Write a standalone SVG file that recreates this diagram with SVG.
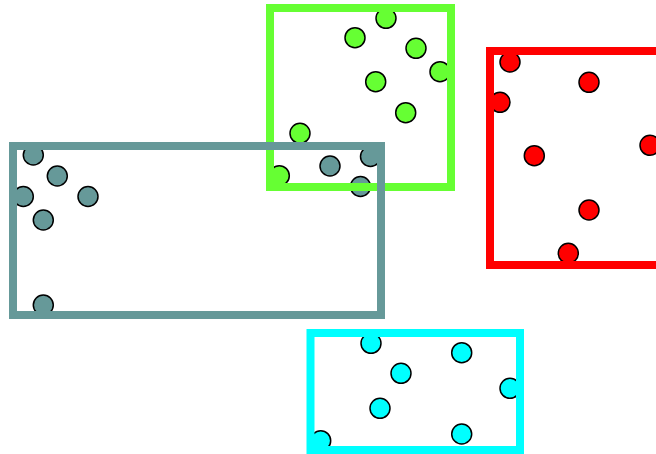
<svg xmlns="http://www.w3.org/2000/svg" width="656" height="454" viewBox="0 0 656 454">
<style>
.dot{stroke:#000;stroke-width:1.5}
.frame{fill:none;stroke-width:8}
.gray{fill:#669999}
.green{fill:#66ff33}
.red{fill:#ff0000}
.cyan{fill:#00ffff}
</style>
<rect width="656" height="454" fill="#fff"/>
<g id="gray-dots" class="gray">
<circle class="dot" cx="33.3" cy="155" r="10"/>
<circle class="dot" cx="57.3" cy="176" r="10"/>
<circle class="dot" cx="23.3" cy="196.5" r="10"/>
<circle class="dot" cx="88" cy="196.5" r="10"/>
<circle class="dot" cx="43.3" cy="220" r="10"/>
<circle class="dot" cx="43.3" cy="305" r="10"/>
<circle class="dot" cx="330" cy="166" r="10"/>
<circle class="dot" cx="370.5" cy="156.5" r="10"/>
<circle class="dot" cx="360.5" cy="186.5" r="10"/>
</g>
<g id="green-dots" class="green">
<circle class="dot" cx="386" cy="18.3" r="10"/>
<circle class="dot" cx="355" cy="37.7" r="10"/>
<circle class="dot" cx="416" cy="48.3" r="10"/>
<circle class="dot" cx="440" cy="71.7" r="10"/>
<circle class="dot" cx="375.7" cy="81.7" r="10"/>
<circle class="dot" cx="405.7" cy="112.7" r="10"/>
<circle class="dot" cx="300" cy="133.3" r="10"/>
<circle class="dot" cx="279.3" cy="175.7" r="10"/>
</g>
<g id="red-dots" class="red">
<circle class="dot" cx="510" cy="62" r="10"/>
<circle class="dot" cx="589" cy="82.3" r="10"/>
<circle class="dot" cx="500" cy="102.3" r="10"/>
<circle class="dot" cx="534.3" cy="155.7" r="10"/>
<circle class="dot" cx="650" cy="145.3" r="10"/>
<circle class="dot" cx="589" cy="210" r="10"/>
<circle class="dot" cx="568.3" cy="253.3" r="10"/>
</g>
<g id="cyan-dots" class="cyan">
<circle class="dot" cx="371" cy="343.3" r="10"/>
<circle class="dot" cx="461.7" cy="352.7" r="10"/>
<circle class="dot" cx="401" cy="373.3" r="10"/>
<circle class="dot" cx="510" cy="388.3" r="10"/>
<circle class="dot" cx="380" cy="408.3" r="10"/>
<circle class="dot" cx="320.7" cy="440.7" r="10"/>
<circle class="dot" cx="461.7" cy="434" r="10"/>
</g>
<g id="red-box"><rect class="frame" x="490" y="51" width="200" height="214" stroke="#ff0000"/></g>
<g id="cyan-box"><rect class="frame" x="310.5" y="333" width="209.5" height="117" stroke="#00ffff"/></g>
<g id="green-box"><rect class="frame" x="270" y="8" width="181" height="179" stroke="#66ff33"/></g>
<g id="gray-box"><rect class="frame" x="13" y="146" width="368" height="169" stroke="#669999"/></g>
</svg>
